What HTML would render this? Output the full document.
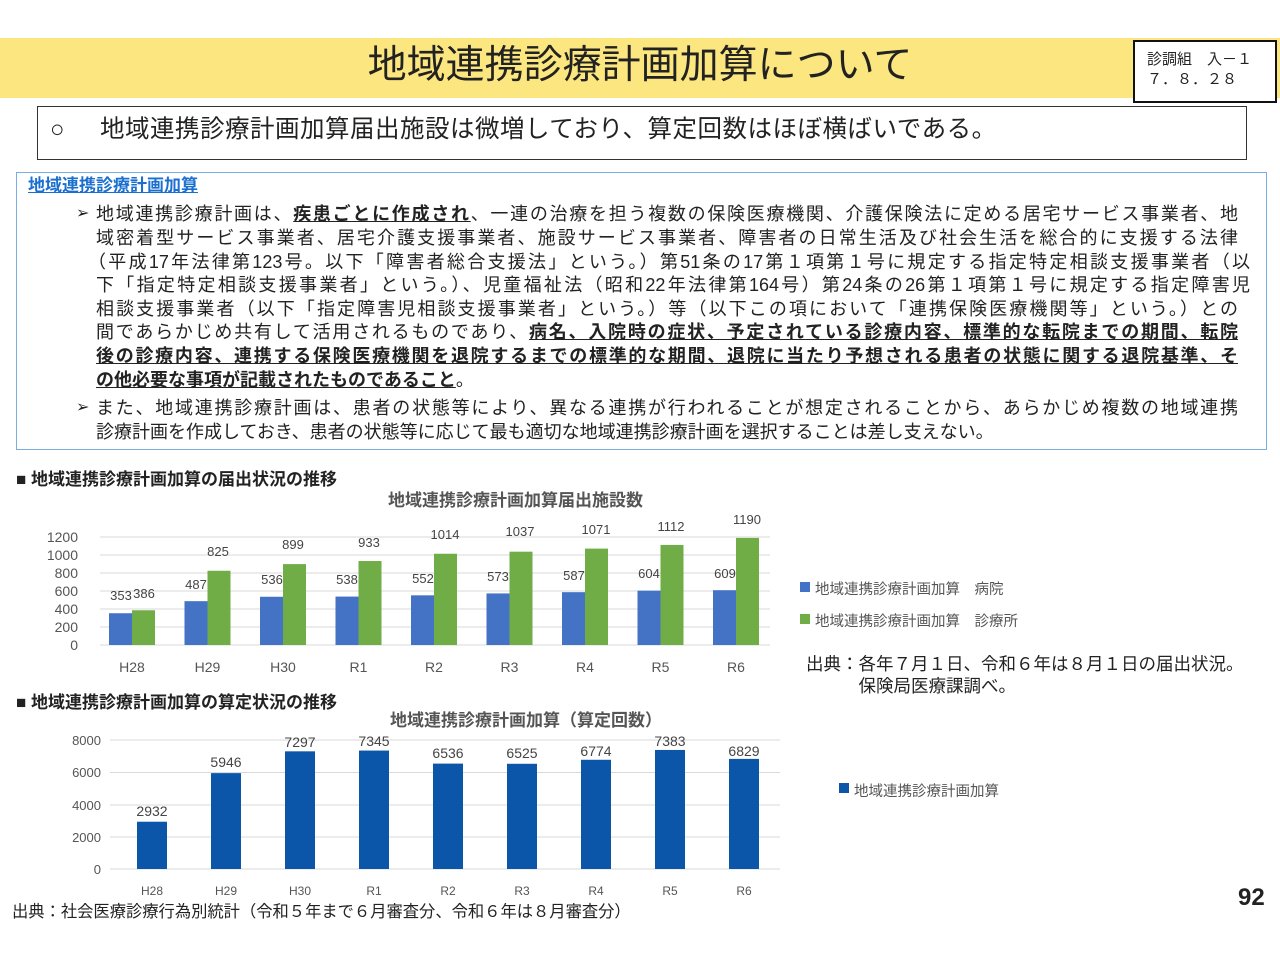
<!DOCTYPE html>
<html><head><meta charset="utf-8"><style>
body{margin:0;width:1280px;height:960px;background:#fff;position:relative;overflow:hidden;font-family:"Liberation Sans","Noto Sans CJK JP",sans-serif;color:#222}
.a{position:absolute;white-space:nowrap}
.ln{position:absolute;left:96px;width:1142px;font-size:18px;line-height:22px;text-align:justify;text-align-last:justify;white-space:nowrap;overflow:visible}
b.u{font-weight:bold;text-decoration:underline}
</style></head><body>
<div class="a" style="left:0;top:38px;width:1280px;height:60px;background:#fbe67f"></div>
<div class="a" style="left:0;top:40px;width:1280px;text-align:center;font-size:39px;line-height:52px;">地域連携診療計画加算について</div>
<div class="a" style="left:1133px;top:40px;border:2px solid #111;background:#fff;font-size:15px;line-height:20px;padding:8px 0 0 12px;box-sizing:border-box;width:144px;height:63px">診調組　入－１<br>７．８．２８</div>
<div class="a" style="left:37px;top:106px;width:1208px;height:52px;border:1.5px solid #333"></div>
<div class="a" style="left:50px;top:114px;font-size:24px;line-height:32px">○</div>
<div class="a" style="left:100px;top:114px;font-size:24.5px;line-height:32px;letter-spacing:0.5px">地域連携診療計画加算届出施設は微増しており、算定回数はほぼ横ばいである。</div>
<div class="a" style="left:16px;top:172px;width:1249px;height:276px;border:1.5px solid #7aaee0"></div>
<div class="a" style="left:28px;top:175px;font-size:17px;font-weight:bold;color:#1a6fcf;text-decoration:underline;line-height:22px">地域連携診療計画加算</div>
<div class="a" style="left:76px;top:203px;font-size:16px">➢</div>
<div class="ln" style="top:203px">地域連携診療計画は、<b class="u">疾患ごとに作成され</b>、一連の治療を担う複数の保険医療機関、介護保険法に定める居宅サービス事業者、地</div>
<div class="ln" style="top:227px">域密着型サービス事業者、居宅介護支援事業者、施設サービス事業者、障害者の日常生活及び社会生活を総合的に支援する法律</div>
<div class="ln" style="top:251px;left:88px;width:1162px">（平成17年法律第123号。以下「障害者総合支援法」という。）第51条の17第１項第１号に規定する指定特定相談支援事業者（以</div>
<div class="ln" style="top:274px;width:1154px">下「指定特定相談支援事業者」という。）、児童福祉法（昭和22年法律第164号）第24条の26第１項第１号に規定する指定障害児</div>
<div class="ln" style="top:298px">相談支援事業者（以下「指定障害児相談支援事業者」という。）等（以下この項において「連携保険医療機関等」という。）との</div>
<div class="ln" style="top:321px">間であらかじめ共有して活用されるものであり、<b class="u">病名、入院時の症状、予定されている診療内容、標準的な転院までの期間、転院</b></div>
<div class="ln" style="top:345px"><b class="u">後の診療内容、連携する保険医療機関を退院するまでの標準的な期間、退院に当たり予想される患者の状態に関する退院基準、そ</b></div>
<div class="a" style="top:369px;left:96px;font-size:18px;line-height:22px"><b class="u">の他必要な事項が記載されたものであること</b>。</div>
<div class="a" style="left:76px;top:397px;font-size:16px">➢</div>
<div class="ln" style="top:397px">また、地域連携診療計画は、患者の状態等により、異なる連携が行われることが想定されることから、あらかじめ複数の地域連携</div>
<div class="a" style="top:421px;left:96px;font-size:18px;line-height:22px">診療計画を作成しておき、患者の状態等に応じて最も適切な地域連携診療計画を選択することは差し支えない。</div>

<div class="a" style="left:16px;top:465px;font-size:17px;font-weight:bold">■ 地域連携診療計画加算の届出状況の推移</div>
<div class="a" style="left:388px;top:486px;font-size:17px;font-weight:bold;color:#555">地域連携診療計画加算届出施設数</div>
<div class="a" style="left:16px;top:688px;font-size:17px;font-weight:bold">■ 地域連携診療計画加算の算定状況の推移</div>
<div class="a" style="left:390px;top:706px;font-size:17px;font-weight:bold;color:#555">地域連携診療計画加算（算定回数）</div>

<svg class="a" style="left:0;top:0" width="1280" height="960" font-family="Liberation Sans, sans-serif">
<g stroke="#d9d9d9" stroke-width="1">
<line x1="100" x2="770" y1="537" y2="537"/><line x1="100" x2="770" y1="555" y2="555"/><line x1="100" x2="770" y1="573" y2="573"/><line x1="100" x2="770" y1="591" y2="591"/><line x1="100" x2="770" y1="609" y2="609"/><line x1="100" x2="770" y1="627" y2="627"/><line x1="100" x2="770" y1="645" y2="645"/>
<line x1="110" x2="780" y1="740" y2="740"/><line x1="110" x2="780" y1="772.5" y2="772.5"/><line x1="110" x2="780" y1="805" y2="805"/><line x1="110" x2="780" y1="837" y2="837"/><line x1="110" x2="780" y1="869" y2="869"/>
</g>
<g font-size="14" fill="#555" text-anchor="end">
<text x="78" y="542">1200</text><text x="78" y="560">1000</text><text x="78" y="578">800</text><text x="78" y="596">600</text><text x="78" y="614">400</text><text x="78" y="632">200</text><text x="78" y="650">0</text>
<text x="101" y="745" font-size="13">8000</text><text x="101" y="777" font-size="13">6000</text><text x="101" y="810" font-size="13">4000</text><text x="101" y="842" font-size="13">2000</text><text x="101" y="874" font-size="13">0</text>
</g>
<g transform="translate(0,645) scale(1,-0.09)">
<g fill="#4472c4">
<rect x="109" width="23" height="353"/><rect x="184.5" width="23" height="487"/><rect x="260" width="23" height="536"/><rect x="335.5" width="23" height="538"/><rect x="411" width="23" height="552"/><rect x="486.5" width="23" height="573"/><rect x="562" width="23" height="587"/><rect x="637.5" width="23" height="604"/><rect x="713" width="23" height="609"/>
</g>
<g fill="#70ad47">
<rect x="132" width="23" height="386"/><rect x="207.5" width="23" height="825"/><rect x="283" width="23" height="899"/><rect x="358.5" width="23" height="933"/><rect x="434" width="23" height="1014"/><rect x="509.5" width="23" height="1037"/><rect x="585" width="23" height="1071"/><rect x="660.5" width="23" height="1112"/><rect x="736" width="23" height="1190"/>
</g></g>
<g font-size="13" fill="#444" text-anchor="middle">
<text x="121" y="600">353</text><text x="144" y="598">386</text>
<text x="196" y="589">487</text><text x="218" y="556">825</text>
<text x="272" y="584">536</text><text x="293" y="549">899</text>
<text x="347" y="584">538</text><text x="369" y="547">933</text>
<text x="423" y="583">552</text><text x="445" y="539">1014</text>
<text x="498" y="581">573</text><text x="520" y="536">1037</text>
<text x="574" y="580">587</text><text x="596" y="534">1071</text>
<text x="649" y="578">604</text><text x="671" y="531">1112</text>
<text x="725" y="578">609</text><text x="747" y="524">1190</text>
</g>
<g font-size="14" fill="#555" text-anchor="middle">
<text x="132" y="672">H28</text><text x="207.5" y="672">H29</text><text x="283" y="672">H30</text><text x="358.5" y="672">R1</text><text x="434" y="672">R2</text><text x="509.5" y="672">R3</text><text x="585" y="672">R4</text><text x="660.5" y="672">R5</text><text x="736" y="672">R6</text>
</g>
<g transform="translate(0,869) scale(1,-0.016125)" fill="#0b56a8">
<rect x="137" width="30" height="2932"/><rect x="211" width="30" height="5946"/><rect x="285" width="30" height="7297"/><rect x="359" width="30" height="7345"/><rect x="433" width="30" height="6536"/><rect x="507" width="30" height="6525"/><rect x="581" width="30" height="6774"/><rect x="655" width="30" height="7383"/><rect x="729" width="30" height="6829"/>
</g>
<g font-size="14" fill="#444" text-anchor="middle">
<text x="152" y="816">2932</text><text x="226" y="767">5946</text><text x="300" y="747">7297</text><text x="374" y="746">7345</text><text x="448" y="758">6536</text><text x="522" y="758">6525</text><text x="596" y="756">6774</text><text x="670" y="746">7383</text><text x="744" y="756">6829</text>
</g>
<g font-size="12" fill="#555" text-anchor="middle">
<text x="152" y="895">H28</text><text x="226" y="895">H29</text><text x="300" y="895">H30</text><text x="374" y="895">R1</text><text x="448" y="895">R2</text><text x="522" y="895">R3</text><text x="596" y="895">R4</text><text x="670" y="895">R5</text><text x="744" y="895">R6</text>
</g>
<rect x="800" y="582" width="10" height="10" fill="#4472c4"/>
<rect x="800" y="614" width="10" height="10" fill="#70ad47"/>
<rect x="839" y="783" width="10" height="10" fill="#0b56a8"/>
</svg>
<div class="a" style="left:815px;top:578px;font-size:14.5px;color:#555">地域連携診療計画加算　病院</div>
<div class="a" style="left:815px;top:610px;font-size:14.5px;color:#555">地域連携診療計画加算　診療所</div>
<div class="a" style="left:854px;top:780px;font-size:14.5px;color:#555">地域連携診療計画加算</div>
<div class="a" style="left:806px;top:653px;font-size:17.5px;line-height:22px">出典：各年７月１日、令和６年は８月１日の届出状況。<br>　　　保険局医療課調べ。</div>
<div class="a" style="left:12px;top:898px;font-size:16.3px">出典：社会医療診療行為別統計（令和５年まで６月審査分、令和６年は８月審査分）</div>
<div class="a" style="left:1238px;top:884px;font-size:24px;font-weight:bold">92</div>
</body></html>
